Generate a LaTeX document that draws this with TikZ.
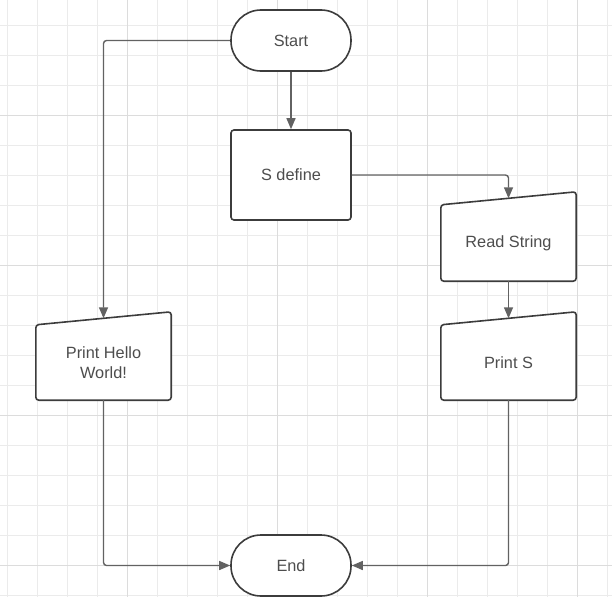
\documentclass[tikz,border=0pt]{standalone}
\usepackage{fontspec}
\setmainfont{Liberation Sans}
\usetikzlibrary{arrows.meta}

\definecolor{gridminor}{HTML}{EBEBEB}
\definecolor{gridmajor}{HTML}{DCDCDC}
\definecolor{shapeline}{HTML}{3C3C3C}
\definecolor{connline}{HTML}{626262}
\definecolor{textgray}{HTML}{4D4D4D}

\pgfdeclarelayer{grid}
\pgfdeclarelayer{outline}
\pgfsetlayers{grid,outline,main}

\begin{document}
\begin{tikzpicture}[
        x=1pt, y=-1pt,
        every node/.style={font=\fontsize{16.3}{20}\selectfont, text=textgray, align=center},
        terminal/.style={draw=shapeline, fill=white, line width=1.6pt, rounded corners=30pt,
            minimum width=120pt, minimum height=61pt},
        process/.style={draw=shapeline, fill=white, line width=1.6pt, rounded corners=3pt,
            minimum width=120pt, minimum height=90pt},
        manual/.style={minimum width=135pt, minimum height=76pt, inner sep=0pt},
        manualline/.style={draw=shapeline, fill=white, line width=1.6pt, rounded corners=3pt},
        conn/.style={draw=connline, line width=1.4pt, rounded corners=3pt,
            -{Triangle[length=11pt,width=9pt]}}
    ]
    \useasboundingbox (0,0) rectangle (612,597);
    % grid
    \begin{pgfonlayer}{grid}
    \foreach \gx in {7,37,...,607}
        \draw[gridminor, line width=0.8pt] (\gx,0) -- (\gx,597);
    \foreach \gy in {25,55,...,595}
        \draw[gridminor, line width=0.8pt] (0,\gy) -- (612,\gy);
    \foreach \gx in {127,277,427,577}
        \draw[gridmajor, line width=0.9pt] (\gx,0) -- (\gx,597);
    \foreach \gy in {115,265,415,565}
        \draw[gridmajor, line width=0.9pt] (0,\gy) -- (612,\gy);
    \end{pgfonlayer}

    % nodes
    \node[terminal] (start) at (291,40.5) {Start};
    \node[process] (define) at (291,175) {S define};
    \node[manual] (read) at (508.5,243) {Read String};
    \node[manual, minimum height=75pt] (prints) at (508.5,362.5) {Print S};
    \node[manual, minimum height=75pt] (hello) at (103.5,362.5) {Print Hello\\World!};
    \node[terminal] (end) at (291,565.5) {End};

    % manual input outlines
    \begin{pgfonlayer}{outline}
    \foreach \m in {read,prints,hello}
        \draw[manualline] (\m.south west) -- (\m.north west)
            -- ([yshift=13pt]\m.north east) -- (\m.south east) -- cycle;
    \end{pgfonlayer}
    \coordinate (read top) at ([yshift=6.5pt]read.north);
    \coordinate (prints top) at ([yshift=6.5pt]prints.north);
    \coordinate (hello top) at ([yshift=6.5pt]hello.north);

    % connectors
    \draw[conn] (start.west) -| (hello top);
    \draw[conn] (start) -- (define);
    \draw[conn] (define.east) -| (read top);
    \draw[conn] (read) -- (prints top);
    \draw[conn] (hello) |- (end);
    \draw[conn] (prints) |- (end);
\end{tikzpicture}
\end{document}
